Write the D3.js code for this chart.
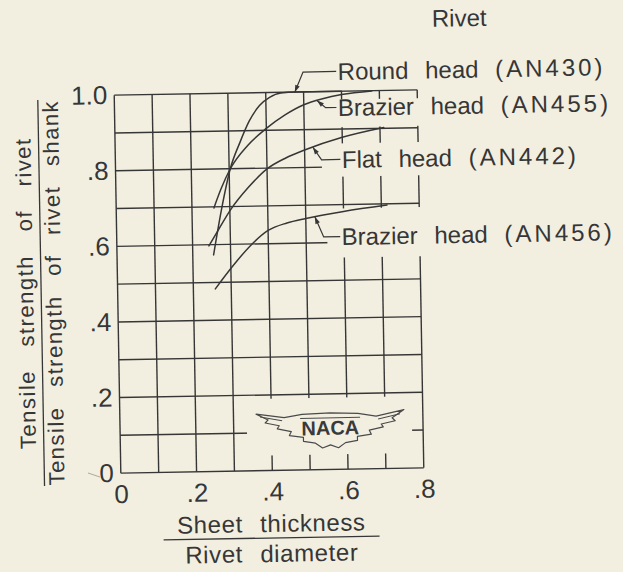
<!DOCTYPE html>
<html>
<head>
<meta charset="utf-8">
<script src="https://cdn.jsdelivr.net/npm/d3@7"></script>
<style>
  html, body { margin: 0; padding: 0; background: #f2efe1; }
  svg { display: block; }
</style>
</head>
<body>
<script>
// ---- data -------------------------------------------------------------
// Sheet thickness / rivet diameter (x) vs. strength ratio (y)
const roundHeadX   = [0.255, 0.278, 0.303, 0.33, 0.355, 0.383, 0.41, 0.44, 0.48, 0.6];
const roundHeadY   = [0.573, 0.693, 0.80, 0.87, 0.925, 0.966, 0.987, 0.998, 1.0, 1.0];

const brazier455X  = [0.258, 0.278, 0.303, 0.35, 0.40, 0.45, 0.50, 0.55, 0.60, 0.68];
const brazier455Y  = [0.697, 0.748, 0.80, 0.861, 0.905, 0.94, 0.966, 0.981, 0.991, 0.999];

const flatHeadX    = [0.243, 0.27, 0.303, 0.35, 0.40, 0.45, 0.50, 0.60, 0.71];
const flatHeadY    = [0.597, 0.641, 0.693, 0.75, 0.798, 0.826, 0.846, 0.878, 0.902];

const brazier456X  = [0.258, 0.303, 0.35, 0.40, 0.45, 0.50, 0.60, 0.715];
const brazier456Y  = [0.483, 0.54, 0.593, 0.635, 0.654, 0.665, 0.682, 0.697];

const seriesNames  = ["Round head", "Brazier head", "Flat head", "Brazier head"];
const seriesCodes  = ["(AN430)", "(AN455)", "(AN442)", "(AN456)"];
// where each leader touches its curve (x value)
const leaderAtX    = [0.477, 0.535, 0.522, 0.524];

const xTicks       = [0, 0.2, 0.4, 0.6, 0.8];
const xTickLabels  = ["0", ".2", ".4", ".6", ".8"];
const yTicks       = [0, 0.2, 0.4, 0.6, 0.8, 1.0];
const yTickLabels  = ["0", ".2", ".4", ".6", ".8", "1.0"];
const gridX        = [0, 0.1, 0.2, 0.3, 0.4, 0.5, 0.6, 0.7, 0.8];
const gridY        = [0, 0.1, 0.2, 0.3, 0.4, 0.5, 0.6, 0.7, 0.8, 0.9, 1.0];

// ---- layout -----------------------------------------------------------
const W = 623, H = 572;
const PAPER = "#f2efe1";
const INK = "#363636";
const FONT = "'Liberation Sans', Arial, sans-serif";
const frame = { left: 117.5, right: 420.5, top: 92.5, bottom: 470.5 };

// label placement, in data units of the plot
const labelPos = [
  { tx: 0.591, base: 1.030 },
  { tx: 0.590, base: 0.9346 },
  { tx: 0.598, base: 0.797 },
  { tx: 0.594, base: 0.593 }
];
// regions of the grid left blank for lettering and the emblem
const blanks = [
  { x0: 0.585, x1: 0.84, y0: 0.905, y1: 0.978 },
  { x0: 0.545, x1: 0.84, y0: 0.774, y1: 0.862 },
  { x0: 0.556, x1: 0.84, y0: 0.560, y1: 0.690 },
  { x0: 0.335, x1: 0.771, y0: 0.040, y1: 0.190 }
];

const x = d3.scaleLinear().domain([0, 0.8]).range([frame.left, frame.right]);
const y = d3.scaleLinear().domain([0, 1]).range([frame.bottom, frame.top]);

const svg = d3.select("body").append("svg")
  .attr("width", W).attr("height", H);
svg.append("rect").attr("width", W).attr("height", H).attr("fill", PAPER);

// the whole sheet sits very slightly turned
const cx = (frame.left + frame.right) / 2, cy = (frame.top + frame.bottom) / 2;
const g = svg.append("g").attr("transform", `rotate(-1, ${cx}, ${cy})`);

// ---- grid -------------------------------------------------------------
const grid = g.append("g").attr("stroke", INK).attr("stroke-width", 1.4);
grid.selectAll("line.v").data(gridX).join("line").attr("class", "v")
  .attr("x1", d => x(d)).attr("x2", d => x(d))
  .attr("y1", y(0)).attr("y2", y(1));
grid.selectAll("line.h").data(gridY).join("line").attr("class", "h")
  .attr("y1", d => y(d)).attr("y2", d => y(d))
  .attr("x1", x(0)).attr("x2", x(0.8));

g.append("g").selectAll("rect").data(blanks).join("rect")
  .attr("x", d => x(d.x0)).attr("width", d => x(d.x1) - x(d.x0))
  .attr("y", d => y(d.y1)).attr("height", d => y(d.y0) - y(d.y1))
  .attr("fill", PAPER);

// ---- curves -----------------------------------------------------------
const series = [
  { xs: roundHeadX,  ys: roundHeadY },
  { xs: brazier455X, ys: brazier455Y },
  { xs: flatHeadX,   ys: flatHeadY },
  { xs: brazier456X, ys: brazier456Y }
].map(s => s.xs.map((v, i) => [v, s.ys[i]]));

const line = d3.line()
  .x(d => x(d[0])).y(d => y(d[1]))
  .curve(d3.curveMonotoneX);

g.append("g").selectAll("path").data(series).join("path")
  .attr("d", line)
  .attr("fill", "none")
  .attr("stroke", INK)
  .attr("stroke-width", 1.5)
  .attr("stroke-linecap", "round");

// ---- labels with leaders ---------------------------------------------
function valueAt(pts, xv) {
  for (let i = 1; i < pts.length; i++) {
    if (xv <= pts[i][0]) {
      const t = (xv - pts[i - 1][0]) / (pts[i][0] - pts[i - 1][0]);
      return pts[i - 1][1] + t * (pts[i][1] - pts[i - 1][1]);
    }
  }
  return pts[pts.length - 1][1];
}

const labels = g.append("g");
series.forEach((pts, i) => {
  const p = labelPos[i];
  const tipX = x(leaderAtX[i]);
  const tipY = y(valueAt(pts, leaderAtX[i]));
  const textX = x(p.tx);
  const baseY = y(p.base);
  const midY = baseY - 8.5;
  const cornerX = tipX + 8.5;

  labels.append("polyline")
    .attr("points", `${tipX},${tipY} ${cornerX},${midY} ${textX - 1.5},${midY}`)
    .attr("fill", "none").attr("stroke", INK).attr("stroke-width", 1.2);

  // small arrowhead touching the curve
  const ang = Math.atan2(tipY - midY, tipX - cornerX);
  const L = 7, Wd = 2.4;
  const bx = tipX - L * Math.cos(ang), by = tipY - L * Math.sin(ang);
  const nx = -Math.sin(ang) * Wd, ny = Math.cos(ang) * Wd;
  labels.append("path")
    .attr("d", `M${tipX},${tipY}L${bx + nx},${by + ny}L${bx - nx},${by - ny}Z`)
    .attr("fill", INK);

  const t = labels.append("text")
    .attr("x", textX).attr("y", baseY)
    .attr("font-family", FONT).attr("font-size", 24)
    .attr("fill", INK).style("word-spacing", "10px");
  t.append("tspan").text(seriesNames[i] + " ");
  t.append("tspan").style("letter-spacing", "3px").text(seriesCodes[i]);
});

labels.append("text")
  .attr("x", x(0.842)).attr("y", y(1.166))
  .attr("font-family", FONT).attr("font-size", 24).attr("fill", INK)
  .text("Rivet");

// ---- NACA emblem ------------------------------------------------------
const emblem = g.append("g")
  .attr("transform", `translate(${x(0.555)},${y(0.11)})`);
emblem.append("path")
  .attr("d", "M-74,-15 L-46,-11 L-28,-14 L0,-15 L28,-14 L46,-11 L74,-17 " +
             "L62,-9 L65,-6 L51,-3 L53,0 L39,3 L41,7 L27,9 L27,13 L15,15 L8,20 L0,17 " +
             "L-8,20 L-15,15 L-27,13 L-27,9 L-41,7 L-39,3 L-53,0 L-51,-3 L-65,-6 L-62,-9 Z")
  .attr("fill", PAPER).attr("stroke", "#4a4a4a").attr("stroke-width", 1.2)
  .attr("stroke-linejoin", "round");
emblem.append("path")
  .attr("d", "M-70,-12 L-48,-8 M70,-13 L48,-8 M-30,-10 L30,-10")
  .attr("fill", "none").attr("stroke", "#4a4a4a").attr("stroke-width", 1);
emblem.append("text")
  .attr("x", 0).attr("y", 7).attr("text-anchor", "middle")
  .attr("font-family", FONT).attr("font-weight", "bold").attr("font-size", 20)
  .attr("fill", "#3a3a3a").text("NACA");

// ---- axes -------------------------------------------------------------
const yAxis = d3.axisLeft(y).tickValues(yTicks)
  .tickFormat((d, i) => yTickLabels[i]).tickSize(0).tickPadding(7);
g.append("g").attr("transform", `translate(${x(0)},0)`).call(yAxis)
  .call(a => a.select(".domain").remove())
  .attr("font-family", FONT).attr("font-size", 26)
  .selectAll("text").attr("fill", INK);

const xAxis = d3.axisBottom(x).tickValues(xTicks)
  .tickFormat((d, i) => xTickLabels[i]).tickSize(0).tickPadding(11.5);
g.append("g").attr("transform", `translate(0,${y(0)})`).call(xAxis)
  .call(a => a.select(".domain").remove())
  .attr("font-family", FONT).attr("font-size", 26)
  .selectAll("text").attr("fill", INK);

// faint stray stroke beside the origin
g.append("line")
  .attr("x1", 84.7).attr("y1", 469.8).attr("x2", 96.6).attr("y2", 474)
  .attr("stroke", "#b3ada0").attr("stroke-width", 1);

// ---- axis titles (written as fractions) -------------------------------
const xt = g.append("g").attr("font-family", FONT).attr("font-size", 24)
  .attr("fill", INK).attr("text-anchor", "middle").style("word-spacing", "10px")
  .style("letter-spacing", "0.6px");
const xMid = x(0.395);
xt.append("text").attr("x", xMid).attr("y", 532).text("Sheet thickness");
xt.append("line").attr("x1", xMid - 108).attr("x2", xMid + 108)
  .attr("y1", 538).attr("y2", 538).attr("stroke", INK).attr("stroke-width", 1.3);
xt.append("text").attr("x", xMid).attr("y", 562).text("Rivet diameter");

const yt = g.append("g").attr("font-family", FONT).attr("font-size", 22)
  .attr("fill", INK).attr("text-anchor", "middle")
  .style("letter-spacing", "1.5px");
yt.append("text").attr("transform", "translate(33,289) rotate(-90)")
  .style("word-spacing", "16px")
  .text("Tensile strength of rivet");
yt.append("line").attr("x1", 41).attr("x2", 41).attr("y1", 96).attr("y2", 482)
  .attr("stroke", INK).attr("stroke-width", 1.3);
yt.append("text").attr("transform", "translate(61,289) rotate(-90)")
  .style("word-spacing", "12px")
  .text("Tensile strength of rivet shank");
</script>
</body>
</html>
